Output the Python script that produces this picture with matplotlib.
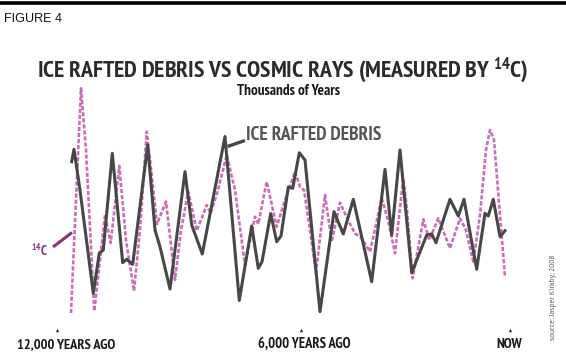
import matplotlib
matplotlib.use("Agg")
import matplotlib.pyplot as plt
from matplotlib import font_manager as fm

# ---- data (x = position along time axis, y = signal level, both) ----
ird_x = [71.7, 74, 80, 93.3, 99.3, 103.3, 112.3, 122.7, 126.7, 132.7, 147.7, 155, 160, 170,
         185, 191.7, 202.3, 225, 239.3, 251.7, 258.3, 262, 270.7, 276.7, 281, 288.3, 292.7,
         299.3, 305, 320, 334, 343.3, 353.3, 371.7, 385, 391.7, 400, 411.7, 426.7, 431.7,
         436, 450, 458.3, 464, 476.7, 485, 488.3, 493.3, 500, 505]
ird_y = [161.7, 149.3, 190, 293.3, 253, 250, 153.3, 262.7, 259.3, 264.3, 145, 230, 246.7, 289,
         171.7, 225, 254, 136.5, 300.5, 226, 268.3, 261.7, 213.5, 241.7, 236, 187, 188.3,
         152.7, 160, 311.7, 211.7, 234, 199.3, 281.7, 169.3, 235, 150, 272.7, 235, 234,
         242.7, 199.3, 216, 199.3, 269.3, 213.3, 216, 199.3, 236.7, 230.7]

c14_x = [71, 76, 81, 86, 94.3, 100, 105, 110.7, 119.3, 126, 134, 140, 146.7, 150, 157, 166,
         175, 181, 188.3, 196.7, 203, 206.7, 210.7, 218, 226.7, 235, 245, 255, 258.3, 266.7,
         276.7, 285, 295, 300, 304, 310, 316, 325, 331.7, 340, 348, 355, 361.7, 370, 381.7,
         388, 395, 403.3, 407, 412.7, 423.3, 429.3, 438.3, 450, 460, 466, 473.3, 480, 486,
         490, 494, 498, 502, 505]
c14_y = [313, 200, 88.3, 150, 311, 260, 215, 243, 166, 240, 291, 230, 131.7, 160, 224, 201.7,
         280, 230, 191.7, 230.7, 215, 205, 213.3, 190, 155, 190, 265, 216.7, 224, 181.7,
         226.7, 200, 171.7, 186.7, 190, 230, 272.7, 195, 241.7, 202.7, 220, 233.3, 238.3,
         251.7, 198.3, 220, 253.3, 178.3, 210, 278.3, 219.3, 240, 218.3, 248.3, 218.3, 230,
         261.7, 215, 150, 130, 140, 190, 240, 276.7]

tick_pos = [57, 301, 510]
tick_labels = ["12,000 YEARS AGO", "6,000 YEARS AGO", "NOW"]

# ---- fonts ----
names = {f.name for f in fm.fontManager.ttflist}
def pick(cands, default="DejaVu Sans"):
    for c in cands:
        if c in names:
            return c
    return default

cond = pick(["Myriad Pro", "PT Sans Narrow", "Roboto Condensed", "Open Sans Condensed",
             "Fira Sans Condensed", "Archivo Narrow", "Liberation Sans Narrow",
             "Encode Sans Condensed", "Asap Condensed", "IBM Plex Sans Condensed",
             "Barlow Condensed", "Sofia Sans Condensed", "Ubuntu Condensed", "Oswald"])
reg = pick(["Liberation Sans", "Arimo", "DejaVu Sans"])
srcfont = pick(["Myriad Pro", "PT Sans", "Source Sans 3", "Source Sans Pro", "Open Sans"])
cfam = [cond, "DejaVu Sans"]

plt.rcParams["mathtext.fontset"] = "custom"
plt.rcParams["mathtext.rm"] = cond
plt.rcParams["mathtext.bf"] = cond + ":bold"
plt.rcParams["mathtext.it"] = cond + ":italic"

fig = plt.figure(figsize=(5.66, 3.57), dpi=100)
ax = fig.add_axes([0, 0, 1, 1])
ax.set_xlim(0, 566)
ax.set_ylim(357, 0)
ax.axis("off")

dark = "#474747"
pink = "#c870b6"
purple = "#8e2f7c"

ax.plot(c14_x, c14_y, color=pink, lw=1.9, dashes=(1.6, 0.7), zorder=2)
ax.plot(ird_x, ird_y, color=dark, lw=2.2, zorder=3, solid_joinstyle="round")

# top rule
ax.axhline(2.5, color="black", lw=2.6, zorder=5)

fit = []  # (text, target width px)
t = ax.text(4, 22, "FIGURE 4", fontsize=10, family=reg, va="baseline", ha="left",
            color="#111111")
fit.append((t, 58))
t = ax.text(282.5, 77, r"ICE RAFTED DEBRIS VS COSMIC RAYS (MEASURED BY $^{\mathbf{14}}$C)",
            fontsize=21, family=cfam, fontweight="bold", ha="center", va="baseline",
            color="#2b2b2b")
fit.append((t, 489))
t = ax.text(288.5, 95, "Thousands of Years", fontsize=10, family=cfam, fontweight="bold",
            ha="center", va="baseline", color="#1a1a1a")
fit.append((t, 103))

# series labels
ax.plot([227.5, 245], [146.5, 140.5], color=dark, lw=2.4, solid_capstyle="butt")
t = ax.text(246.5, 140, "ICE RAFTED DEBRIS", fontsize=16, family=cfam, fontweight="bold",
            ha="left", va="baseline", color="#555555")
fit.append((t, 135))
ax.plot([53, 72], [247, 232.5], color=purple, lw=2.2, solid_capstyle="butt")
t = ax.text(48.5, 256.5, r"$^{\mathbf{14}}$C", fontsize=12, family=cfam, fontweight="bold",
            ha="right", va="baseline", color=purple)
fit.append((t, 17))

# x ticks
label_centers = [66, 304, 509]
label_widths = [98, 92, 26]
for p, lab, c, w in zip(tick_pos, tick_labels, label_centers, label_widths):
    ax.plot([p], [330], marker="^", ms=2.5, color="#333333", mew=0)
    t = ax.text(c, 348, lab, fontsize=12, family=cfam, fontweight="bold",
                ha="center", va="baseline", color="#1a1a1a")
    fit.append((t, w))

src = ax.text(553.5, 297.5, "source: Jasper Kirkby, 2008", fontsize=6.5, family=srcfont,
              rotation=90, ha="center", va="center", color="#555555")

# fit text sizes to the widths measured on the reference
for _ in range(2):
    fig.canvas.draw()
    r = fig.canvas.get_renderer()
    for t, w in fit:
        bb = t.get_window_extent(r)
        t.set_fontsize(t.get_fontsize() * w / bb.width)
    bb = src.get_window_extent(r)
    src.set_fontsize(src.get_fontsize() * 85 / bb.height)

fig.savefig("out.png", dpi=100)
